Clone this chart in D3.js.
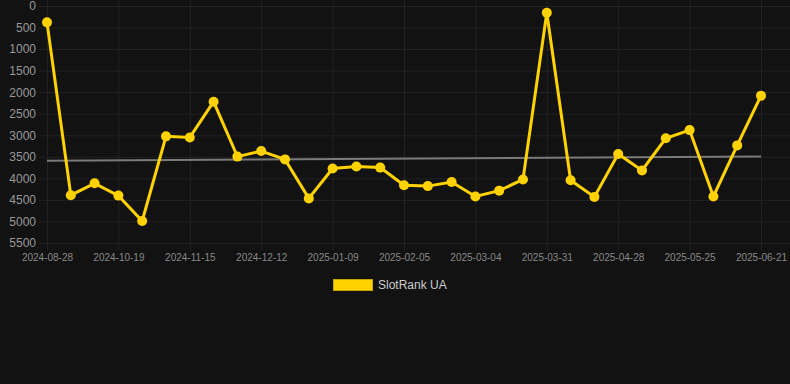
<!DOCTYPE html>
<html lang="en">
<head>
  <meta charset="UTF-8">
  <title>SlotRank UA</title>
  <script src="https://d3js.org/d3.v7.min.js"></script>
  <style>
    html, body { margin: 0; padding: 0; background: #121212; }
    svg { display: block; font-family: "Liberation Sans", Arial, Helvetica, sans-serif; }
  </style>
</head>
<body>
<svg id="chart"></svg>
<script>
  // Dates (category axis) - every 3rd one is labelled
  const dates = [
    "2024-08-28", "2024-09-14", "2024-10-02", "2024-10-19", "2024-10-28", "2024-11-06",
    "2024-11-15", "2024-11-24", "2024-12-03", "2024-12-12", "2024-12-21", "2024-12-31",
    "2025-01-09", "2025-01-18", "2025-01-27", "2025-02-05", "2025-02-14", "2025-02-23",
    "2025-03-04", "2025-03-13", "2025-03-22", "2025-03-31", "2025-04-09", "2025-04-19",
    "2025-04-28", "2025-05-07", "2025-05-16", "2025-05-25", "2025-06-03", "2025-06-12",
    "2025-06-21"
  ];
  const tickLabels = dates.filter((d, i) => i % 3 === 0);

  // Rank values
  const rankValues = [
    380, 4390, 4115, 4400, 4990, 3025,
    3050, 2220, 3495, 3365, 3560, 4465,
    3770, 3725, 3750, 4160, 4180, 4085,
    4420, 4285, 4025, 155, 4045, 4430,
    3435, 3815, 3070, 2880, 4420, 3235,
    2080
  ];

  // Trend line (start / end values)
  const trendValues = [3590, 3495];

  const yTicks = d3.range(0, 5501, 500);
  const seriesName = "SlotRank UA";

  const W = 790, H = 384;
  const plot = { left: 47, right: 761, top: 6, bottom: 243 };

  const svg = d3.select("#chart").attr("width", W).attr("height", H);

  const x = d3.scalePoint().domain(dates).range([plot.left, plot.right]);
  const y = d3.scaleLinear().domain([0, 5500]).range([plot.top, plot.bottom]);

  const gridColor = "#222222";

  // horizontal grid + y labels
  const yAxis = svg.append("g")
    .attr("transform", "translate(" + plot.left + ",0)")
    .call(d3.axisLeft(y).tickValues(yTicks).tickFormat(d3.format("d"))
      .tickSize(8).tickPadding(3).tickSizeOuter(0));
  yAxis.select(".domain").remove();
  yAxis.selectAll(".tick line")
    .attr("x2", W - plot.left)
    .attr("x1", -8)
    .attr("stroke", gridColor);
  yAxis.selectAll(".tick text")
    .attr("fill", "#999")
    .style("font-size", "12px");

  // vertical grid + x labels
  const xAxis = svg.append("g")
    .attr("transform", "translate(0," + plot.bottom + ")")
    .call(d3.axisBottom(x).tickValues(tickLabels).tickSize(7).tickPadding(4).tickSizeOuter(0));
  xAxis.select(".domain").remove();
  xAxis.selectAll(".tick line")
    .attr("y1", -plot.bottom)
    .attr("y2", 7)
    .attr("stroke", gridColor);
  xAxis.selectAll(".tick text")
    .attr("fill", "#888")
    .style("font-size", "10px");

  // trend line
  svg.append("line")
    .attr("x1", x(dates[0]))
    .attr("x2", x(dates[dates.length - 1]))
    .attr("y1", y(trendValues[0]))
    .attr("y2", y(trendValues[1]))
    .attr("stroke", "#7a7a7a")
    .attr("stroke-width", 2);

  // series line
  const line = d3.line()
    .x((d, i) => x(dates[i]))
    .y(d => y(d));

  svg.append("path")
    .datum(rankValues)
    .attr("d", line)
    .attr("fill", "none")
    .attr("stroke", "#ffd200")
    .attr("stroke-width", 3)
    .attr("stroke-linejoin", "miter");

  svg.selectAll("circle.pt")
    .data(rankValues)
    .enter().append("circle")
    .attr("class", "pt")
    .attr("cx", (d, i) => x(dates[i]))
    .attr("cy", d => y(d))
    .attr("r", 5)
    .attr("fill", "#ffd200");

  // legend
  const legend = svg.append("g").attr("transform", "translate(333,279)");
  legend.append("rect")
    .attr("x", 0.5).attr("y", 0.5)
    .attr("width", 39).attr("height", 11)
    .attr("fill", "#ffd200")
    .attr("stroke", "#c9a400")
    .attr("stroke-width", 1);
  legend.append("text")
    .attr("x", 45)
    .attr("y", 10)
    .attr("fill", "#cccccc")
    .style("font-size", "12px")
    .text(seriesName);
</script>
</body>
</html>
